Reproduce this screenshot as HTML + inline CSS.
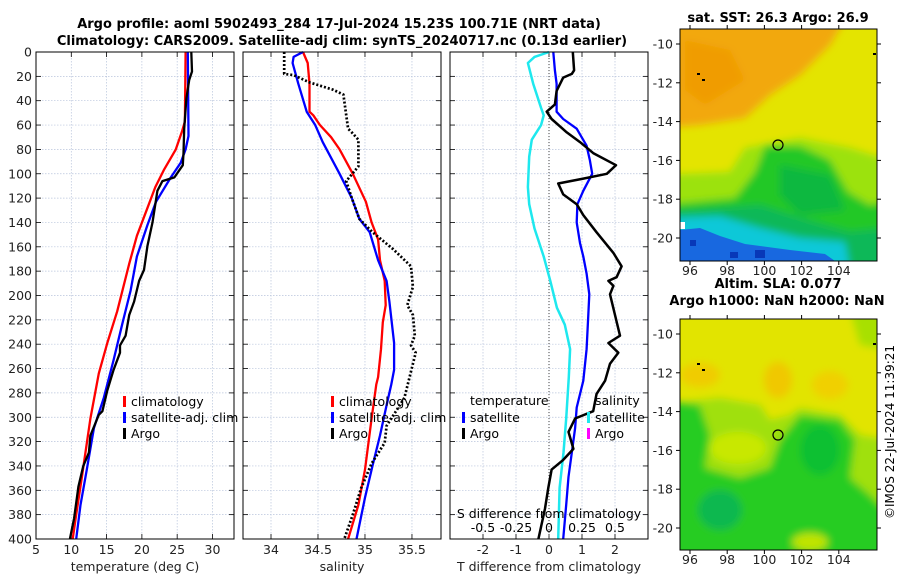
<!DOCTYPE html>
<html><head><meta charset="utf-8"><style>
body{margin:0;background:#fff;}
svg{display:block;font-family:"DejaVu Sans","Liberation Sans",sans-serif;}
</style></head><body>
<svg id="fig" width="900" height="580" viewBox="0 0 900 580" xmlns="http://www.w3.org/2000/svg">
<defs>
<filter id="bl" x="-10%" y="-10%" width="120%" height="120%"><feGaussianBlur stdDeviation="4"/></filter>
<clipPath id="c1"><rect x="680" y="29" width="197" height="232"/></clipPath>
<clipPath id="c2"><rect x="680" y="319" width="197" height="231"/></clipPath>
</defs>
<g font-weight="bold" font-size="13" text-anchor="middle">
<text x="339" y="28">Argo profile: aoml 5902493_284 17-Jul-2024 15.23S 100.71E (NRT data)</text>
<text x="342" y="45">Climatology: CARS2009. Satellite-adj clim: synTS_20240717.nc (0.13d earlier)</text>
</g>
<g id="p1"></g>
<g id="p2"></g>
<g id="p3"></g>

<g>
<text x="778" y="22" font-size="13" font-weight="bold" text-anchor="middle">sat. SST: 26.3 Argo: 26.9</text>
<g clip-path="url(#c1)">
<rect x="660" y="20" width="240" height="250" fill="#e4e400"/>
<g filter="url(#bl)">
<polygon points="660,20 845,20 830,45 800,75 770,95 745,118 700,125 660,128" fill="#f2a810"/>
<polygon points="685,40 730,50 745,80 705,105 685,90" fill="#f09c00"/>
<polygon points="660,175 730,172 745,148 800,138 850,148 890,160 890,270 660,270" fill="#9ce210"/>
<polygon points="660,205 735,198 755,172 765,146 800,146 830,160 848,192 870,205 890,200 890,270 660,270" fill="#20c828"/>
<polygon points="780,165 830,175 845,210 800,215 780,195" fill="#10b840"/>
<polygon points="660,212 760,205 800,218 850,232 890,228 890,270 660,270" fill="#10b858"/>
<polygon points="660,218 720,216 760,228 800,238 845,242 850,270 660,270" fill="#10c8d8"/>
</g>
<polygon points="680,230 700,228 720,236 745,244 790,250 825,254 835,261 680,261" fill="#1868e0"/>
<rect x="755" y="250" width="10" height="8" fill="#0838b8"/>
<rect x="730" y="252" width="8" height="6" fill="#0838b8"/>
<rect x="690" y="240" width="6" height="6" fill="#0838b8"/>
<rect x="680" y="222" width="5" height="7" fill="#fff"/>
</g>
<rect x="680" y="29" width="197" height="232" fill="none" stroke="#000" stroke-width="1"/>
<circle cx="778" cy="145" r="5" fill="none" stroke="#000" stroke-width="1.2"/>
<g id="m1ax"></g>
</g>

<g>
<text x="778" y="288" font-size="13" font-weight="bold" text-anchor="middle">Altim. SLA: 0.077</text>
<text x="777" y="305" font-size="13" font-weight="bold" text-anchor="middle">Argo h1000: NaN h2000: NaN</text>
<g clip-path="url(#c2)">
<rect x="660" y="310" width="240" height="250" fill="#e2e400"/>
<g filter="url(#bl)">
<ellipse cx="700" cy="375" rx="20" ry="12" fill="#f0cc00"/>
<ellipse cx="778" cy="380" rx="14" ry="18" fill="#f0c800"/>
<ellipse cx="830" cy="385" rx="18" ry="14" fill="#f0d000"/>
<polygon points="850,310 890,310 890,350 860,345" fill="#a8e000"/>
<polygon points="660,405 720,398 760,405 770,420 790,415 800,408 840,415 860,435 890,440 890,560 660,560" fill="#a0e010"/>
<polygon points="660,400 700,405 710,435 705,468 740,478 770,468 780,440 800,415 840,420 855,440 850,478 870,495 890,515 890,560 660,560" fill="#28cc20"/>
<ellipse cx="738" cy="448" rx="28" ry="16" fill="#c8e800"/>
<ellipse cx="720" cy="510" rx="22" ry="20" fill="#10b850"/>
<ellipse cx="820" cy="450" rx="20" ry="25" fill="#10c030"/>
<ellipse cx="810" cy="542" rx="18" ry="9" fill="#c0e400"/>
</g>
</g>
<rect x="680" y="319" width="197" height="231" fill="none" stroke="#000" stroke-width="1"/>
<circle cx="778" cy="435" r="5" fill="none" stroke="#000" stroke-width="1.2"/>
<g id="m2ax"></g>
</g>
<text transform="translate(894,432) rotate(-90)" font-size="12" text-anchor="middle">©IMOS 22-Jul-2024 11:39:21</text>
</svg>
<script>
// depth axis ticks
const depthTicks=[0,20,40,60,80,100,120,140,160,180,200,220,240,260,280,300,320,340,360,380,400];
// Temperature panel
const tDepth=[0,57,65,80,97,111,128,151,174,213,239,264,301,349,380,400];
const tClim=[26.2,26.1,25.7,24.8,23.1,21.9,20.8,19.3,18.2,16.5,15.1,13.9,12.7,11.5,10.7,10.2];
const tSatDepth=[0,69,80,91,103,123,142,168,196,224,253,284,309,343,372,400];
const tSat=[26.5,26.6,26.2,25.5,24.1,22.0,20.8,19.3,18.4,17.2,16.0,14.6,13.2,12.2,11.3,10.7];
const tArgoDepth=[0,16,23,38,63,83,93,103,106,114,140,159,179,188,205,216,233,241,247,261,278,295,298,315,329,340,357,383,400];
const tArgo=[27.0,27.1,26.7,26.3,26.0,25.9,25.8,24.6,22.9,22.2,21.5,20.8,20.3,19.6,18.9,18.2,17.7,16.9,16.9,16.0,15.1,14.4,13.9,12.7,12.5,11.7,11.0,10.4,9.8];
const tTicks=[5,10,15,20,25,30];
// Salinity panel
const sClimDepth=[0,9,26,49,52,60,70,80,100,123,140,154,171,188,208,222,244,267,273,301,343,372,400];
const sClim=[34.34,34.39,34.41,34.41,34.45,34.52,34.64,34.73,34.87,35.01,35.07,35.14,35.16,35.21,35.22,35.19,35.17,35.14,35.12,35.07,35.00,34.93,34.82];
const sSatDepth=[0,4,9,26,49,60,74,100,120,137,148,171,188,205,239,261,273,290,315,340,366,400];
const sSat=[34.34,34.24,34.23,34.29,34.38,34.47,34.55,34.73,34.86,34.94,35.05,35.14,35.23,35.26,35.31,35.31,35.28,35.23,35.16,35.08,35.00,34.91];
const sArgoDepth=[0,18,19,25,31,35,63,66,72,94,106,120,137,148,162,176,193,208,216,233,241,247,284,295,307,321,338,358,380,400];
const sArgo=[34.14,34.14,34.24,34.41,34.66,34.77,34.82,34.86,34.93,34.93,34.80,34.86,34.94,35.08,35.30,35.49,35.51,35.45,35.51,35.53,35.49,35.54,35.42,35.33,35.23,35.21,35.07,34.96,34.87,34.78];
const sTicks=[34,34.5,35,35.5];
// Difference panel
const dTSatDepth=[0,15,26,49,55,63,77,89,100,114,125,140,157,168,182,199,216,244,270,292,309,329,349,372,400];
const dTSat=[0.13,0.18,0.23,0.23,0.43,0.84,1.14,1.24,1.31,1.04,0.86,0.84,0.94,1.04,1.14,1.22,1.19,1.14,1.04,0.84,0.79,0.69,0.59,0.52,0.43];
const dTArgoDepth=[0,15,18,21,32,43,49,55,66,74,83,93,100,104,108,117,125,134,148,165,176,185,188,192,199,216,233,239,247,256,270,281,295,301,312,326,335,343,358,375,400];
const dTArgo=[0.72,0.76,0.69,0.43,0.23,0.18,-0.07,0.08,0.54,0.94,1.34,2.03,1.75,1.04,0.28,0.43,0.84,1.04,1.44,1.95,2.2,2.05,1.80,1.95,1.85,2.0,2.15,1.80,2.1,1.85,1.70,1.44,1.34,0.79,0.59,0.74,0.43,0.08,-0.02,-0.12,-0.32];
const dSSatDepth=[0,4,9,26,46,52,60,72,86,111,125,145,168,188,210,224,244,267,301,329,358,400];
const dSSat=[0,-0.11,-0.16,-0.12,-0.06,-0.04,-0.06,-0.13,-0.15,-0.16,-0.15,-0.11,-0.04,0.01,0.06,0.12,0.16,0.15,0.13,0.11,0.08,0.07];
const dTTicks=[-2,-1,0,1,2];
const dSTicks=[-0.5,-0.25,0,0.25,0.5];
const dSTickLabels=["-0.5","-0.25","0","0.25","0.5"];
// map axes
const lonTicks=[96,98,100,102,104];
const latTicks=[-10,-12,-14,-16,-18,-20];

const NS="http://www.w3.org/2000/svg";
function mk(tag,attrs,parent){const e=document.createElementNS(NS,tag);for(const k in attrs)e.setAttribute(k,attrs[k]);parent.appendChild(e);return e;}
const Y0=52,Y1=539;
const yD=d=>Y0+(d/400)*(Y1-Y0);

function panel(g,x0,x1,xmin,xmax,xticks,xlabels,xtitle,showDepthLabels,name){
  const xs=v=>x0+(v-xmin)/(xmax-xmin)*(x1-x0);
  depthTicks.forEach(d=>{
    const l=mk('line',{x1:x0,x2:x1,y1:yD(d),y2:yD(d),stroke:'#b8c4dc','stroke-width':0.7,'stroke-dasharray':'1.5,1.5'},g);
    
    
    mk('line',{x1:x0,x2:x0+5,y1:yD(d),y2:yD(d),stroke:'#000','stroke-width':0.8},g);
    mk('line',{x1:x1-5,x2:x1,y1:yD(d),y2:yD(d),stroke:'#000','stroke-width':0.8},g);
    if(showDepthLabels){
      const t=mk('text',{x:x0-4,y:yD(d)+4.5,'font-size':12.5,'text-anchor':'end',fill:'#222'},g);t.textContent=d;
      
      
    }
  });
  xticks.forEach((v,i)=>{
    const l=mk('line',{x1:xs(v),x2:xs(v),y1:Y0,y2:Y1,stroke:'#b8c4dc','stroke-width':0.7,'stroke-dasharray':'1.5,1.5'},g);
    
    
    mk('line',{x1:xs(v),x2:xs(v),y1:Y1-5,y2:Y1,stroke:'#000','stroke-width':0.8},g);
    mk('line',{x1:xs(v),x2:xs(v),y1:Y0,y2:Y0+5,stroke:'#000','stroke-width':0.8},g);
    const t=mk('text',{x:xs(v),y:554,'font-size':12.5,'text-anchor':'middle',fill:'#222'},g);t.textContent=xlabels[i];
    
    
  });
  const tt=mk('text',{x:(x0+x1)/2,y:571,'font-size':12.5,'text-anchor':'middle',fill:'#222'},g);tt.textContent=xtitle;
  
  
  return xs;
}
function line(g,xs,vals,deps,color,w,dash,name){
  const pts=vals.map((v,i)=>xs(v).toFixed(1)+','+yD(deps[i]).toFixed(1)).join(' ');
  const a={points:pts,fill:'none',stroke:color,'stroke-width':w,'stroke-linejoin':'round'};
  if(dash)a['stroke-dasharray']=dash;
  const p=mk('polyline',a,g);
  
  
}
function box(g,x0,x1){mk('rect',{x:x0,y:Y0,width:x1-x0,height:Y1-Y0,fill:'none',stroke:'#000','stroke-width':1},g);}
function leg(g,x,y,color,label,name){
  mk('rect',{x:x,y:y-9,width:3,height:11,fill:color},g);
  const t=mk('text',{x:x+8,y:y+1,'font-size':12.5,fill:'#000'},g);t.textContent=label;
  
  
}

const g1=document.getElementById('p1');
const x1s=panel(g1,36,234,5,33.05,tTicks,tTicks.map(String),'temperature (deg C)',true);
line(g1,x1s,tClim,tDepth,'#f00',2.3,null,'temperature-climatology-line');
line(g1,x1s,tSat,tSatDepth,'#00f',2.3,null,'temperature-satellite-line');
line(g1,x1s,tArgo,tArgoDepth,'#000',2.3,null,'temperature-argo-line');
box(g1,36,234);
leg(g1,123,405,'#f00','climatology','legend-climatology');
leg(g1,123,421,'#00f','satellite-adj. clim','legend-satellite');
leg(g1,123,437,'#000','Argo','legend-argo');

const g2=document.getElementById('p2');
const x2s=panel(g2,243,441,33.702,35.809,sTicks,['34','34.5','35','35.5'],'salinity',false);
line(g2,x2s,sClim,sClimDepth,'#f00',2.3,null,'salinity-climatology-line');
line(g2,x2s,sSat,sSatDepth,'#00f',2.3,null,'salinity-satellite-line');
line(g2,x2s,sArgo,sArgoDepth,'#000',2.7,'2,2','salinity-argo-line');
box(g2,243,441);
leg(g2,331,405,'#f00','climatology','legend-climatology-2');
leg(g2,331,421,'#00f','satellite-adj. clim','legend-satellite-2');
leg(g2,331,437,'#000','Argo','legend-argo-2');

const g3=document.getElementById('p3');
const x3s=panel(g3,450,648,-3,3,dTTicks,dTTicks.map(String),'T difference from climatology',false);
const s3=v=>x3s(v*4);
const z=mk('line',{x1:x3s(0),x2:x3s(0),y1:Y0,y2:Y1,stroke:'#444','stroke-width':1,'stroke-dasharray':'1,2'},g3);


line(g3,s3,dSSat,dSSatDepth,'#1ee8ee',2.5,null,'salinity-diff-satellite-line');
line(g3,x3s,dTSat,dTSatDepth,'#00f',2.3,null,'temperature-diff-satellite-line');
line(g3,x3s,dTArgo,dTArgoDepth,'#000',2.5,null,'temperature-diff-argo-line');
box(g3,450,648);
const st=mk('text',{x:549,y:518,'font-size':12.5,'text-anchor':'middle',fill:'#000'},g3);st.textContent='S difference from climatology';


dSTicks.forEach((v,i)=>{const t=mk('text',{x:s3(v),y:532,'font-size':12.5,'text-anchor':'middle',fill:'#000'},g3);t.textContent=dSTickLabels[i];
 
 });
const lt=mk('text',{x:470,y:405,'font-size':12.5,fill:'#000'},g3);lt.textContent='temperature';


const ls=mk('text',{x:595,y:405,'font-size':12.5,fill:'#000'},g3);ls.textContent='salinity';


leg(g3,462,421,'#00f','satellite','legend-t-satellite');
leg(g3,462,437,'#000','Argo','legend-t-argo');
leg(g3,587,421,'#1ee8ee','satellite','legend-s-satellite');
leg(g3,587,437,'#f0f','Argo','legend-s-argo');

function mapAxes(id,top,bot,lat10){
  const g=document.getElementById(id);
  const lx=v=>690+(v-96)*18.6;
  const ly=v=>lat10+(-10-v)*19.4;
  lonTicks.forEach(v=>{mk('line',{x1:lx(v),x2:lx(v),y1:bot,y2:bot+4,stroke:'#000'},g);mk('line',{x1:lx(v),x2:lx(v),y1:top-4,y2:top,stroke:'#000'},g);
    const t=mk('text',{x:lx(v),y:bot+14,'font-size':12.5,'text-anchor':'middle',fill:'#222'},g);t.textContent=v;
    
    });
  latTicks.forEach(v=>{mk('line',{x1:676,x2:680,y1:ly(v),y2:ly(v),stroke:'#000'},g);mk('line',{x1:877,x2:881,y1:ly(v),y2:ly(v),stroke:'#000'},g);
    const t=mk('text',{x:673,y:ly(v)+4.5,'font-size':12.5,'text-anchor':'end',fill:'#222'},g);t.textContent=v;
    
    });
  [[697,lat10+29],[702,lat10+35],[873,lat10+9]].forEach(p=>mk('rect',{x:p[0],y:p[1],width:3,height:2,fill:'#000'},g));
}
mapAxes('m1ax',29,261,44);
mapAxes('m2ax',319,550,334);
</script>
</body></html>
